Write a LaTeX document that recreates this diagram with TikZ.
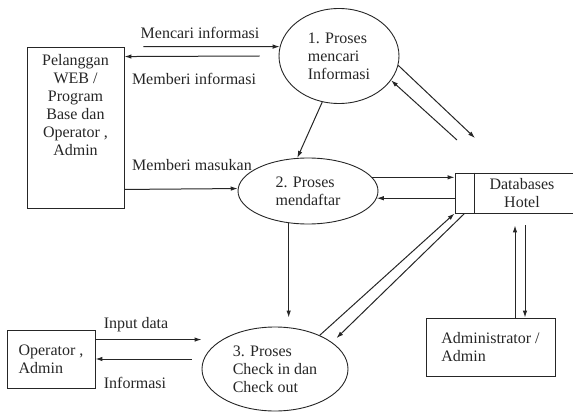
\documentclass[tikz,border=0pt]{standalone}
\definecolor{ink}{HTML}{262626}
\usepackage{fontspec}
\setmainfont{Liberation Serif}
\usetikzlibrary{shapes.geometric,arrows.meta,positioning,calc}
\tikzset{
  txt/.style={font=\fontsize{16}{18}\selectfont, text=ink},
  proc/.style={draw=ink, ellipse, line width=0.9pt, inner sep=0pt, align=left, txt},
  entity/.style={draw=ink, rectangle, line width=0.9pt, txt},
  flow/.style={draw=ink, -{Latex[length=7pt,width=4.5pt]}, line width=1pt},
  lbl/.style={txt}
}

\begin{document}
\begin{tikzpicture}[x=1pt,y=-1pt]
    \useasboundingbox (0,0) rectangle (573,412);
    \node[entity, minimum width=97pt, minimum height=161pt] (cust) at (75.5,127.5) {};
    \node[txt, align=center, anchor=north] (custtext) at ([yshift=-4pt]cust.north) {Pelanggan\\WEB /\\Program\\Base dan\\Operator ,\\Admin};
    \node[entity, align=left, minimum width=88pt, minimum height=58pt] (op) at (51,359) {Operator ,\\Admin};
    \node[entity, align=left, minimum width=129pt, minimum height=58pt] (adm) at (490.5,347) {Administrator /\\Admin};
    \node[entity, align=center, minimum width=134pt, minimum height=40pt] (db) at (522,193) {Databases\\Hotel};
    \draw[ink, line width=0.9pt] ([xshift=20pt]db.north west) -- ([xshift=20pt]db.south west);
    \node[proc, minimum width=120pt, minimum height=95pt] (p1) at (339,56) {1. Proses\\mencari\\Informasi};
    \node[proc, minimum width=140pt, minimum height=66pt] (p2) at (308,191) {2. Proses\\mendaftar};
    \node[proc, minimum width=146pt, minimum height=84pt] (p3) at (275,369) {3. Proses\\Check in dan\\Check out};
    \coordinate (dbin) at (475,138);
    \coordinate (dbout) at (457,140);
    \coordinate (opin) at ([yshift=-10pt]op.north east);
    \coordinate (opout) at ([xshift=-10pt]p3.west);
    \coordinate (admup) at ([xshift=24.5pt]adm.north);
    \coordinate (admdn) at ([xshift=34.5pt]adm.north);
    \draw[flow] ([xshift=19pt]cust.north east) -- (p1.171);
    \draw[flow] ([xshift=-19pt]p1.west) -- ([yshift=-10pt]cust.north east);
    \draw[flow] ([yshift=19pt]cust.south east) -- (p2.178);
    \draw[flow] (p1.250) -- (p2.108);
    \draw[flow] (p1.-9) -- (dbin);
    \draw[flow] (dbout) -- (p1.-25);
    \draw[flow] (p2.12) -- (p2.12 -| db.west);
    \draw[flow] (db.west |- p2.-6) -- (p2.-6);
    \draw[flow, shorten >=9pt] (p2.239) -- (p2.239 |- p3.north);
    \draw[flow] (opin) -- (opin -| p3.west);
    \draw[flow] (opout |- op.east) -- (op.east);
    \draw[flow] (p3.37) -- (db.south west);
    \draw[flow, shorten >=6pt] ([xshift=10pt]db.south west) -- (p3.25);
    \draw[flow, shorten >=12pt] (admup) -- (admup |- db.south);
    \draw[flow, shorten <=12pt] (admdn |- db.south) -- (admdn);
    \node[lbl] (lcari) at (200,33) {Mencari informasi};
    \node[lbl] (lberi) at (194,79) {Memberi informasi};
    \node[lbl] (lmasuk) at (192,165) {Memberi masukan};
    \node[lbl] (linput) at (136,325) {Input data};
    \node[lbl] (linfo) at (135,383) {Informasi};
\end{tikzpicture}
\end{document}
